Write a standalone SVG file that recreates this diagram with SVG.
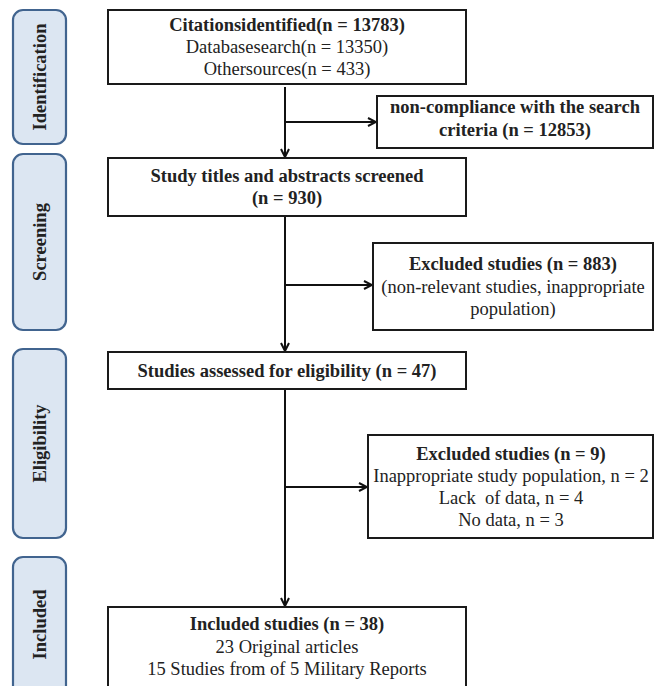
<svg xmlns="http://www.w3.org/2000/svg" width="655" height="686" viewBox="0 0 655 686">
<defs>
<style>
.stage{fill:#dce6f2;stroke:#41648f;stroke-width:2.2}
.box{fill:#fff;stroke:#1a1a1a;stroke-width:2}
.t{font-family:"Liberation Serif","Times New Roman",serif;font-size:18.5px;fill:#222;text-anchor:middle}
.b{font-weight:bold}
.c{stroke:#111;stroke-width:2;fill:none}
</style>
<marker id="ah" viewBox="0 0 10 10" refX="9" refY="5" markerWidth="10" markerHeight="10" markerUnits="userSpaceOnUse" orient="auto">
<path d="M1,1 L9,5 L1,9" fill="none" stroke="#111" stroke-width="2"/>
</marker>
</defs>
<rect width="655" height="686" fill="#fff"/>
<g id="stage-identification">
<rect class="stage" x="13" y="10" width="53" height="134" rx="10"/>
<text class="t b" transform="translate(46,77) rotate(-90)">Identification</text>
</g>
<g id="stage-screening">
<rect class="stage" x="13" y="154" width="53" height="176" rx="10"/>
<text class="t b" transform="translate(46,242) rotate(-90)">Screening</text>
</g>
<g id="stage-eligibility">
<rect class="stage" x="13" y="349" width="53" height="189" rx="10"/>
<text class="t b" transform="translate(46,443.5) rotate(-90)">Eligibility</text>
</g>
<g id="stage-included">
<rect class="stage" x="13" y="557" width="53" height="140" rx="10"/>
<text class="t b" transform="translate(46,624.5) rotate(-90)">Included</text>
</g>
<g id="connectors">
<line class="c" x1="285" y1="87" x2="285" y2="157" marker-end="url(#ah)"/>
<line class="c" x1="285" y1="122" x2="376" y2="122" marker-end="url(#ah)"/>
<line class="c" x1="285" y1="216" x2="285" y2="351" marker-end="url(#ah)"/>
<line class="c" x1="285" y1="285" x2="372" y2="285" marker-end="url(#ah)"/>
<line class="c" x1="285" y1="389" x2="285" y2="606" marker-end="url(#ah)"/>
<line class="c" x1="285" y1="487" x2="367" y2="487" marker-end="url(#ah)"/>
</g>
<g id="citations">
<rect class="box" x="108" y="10" width="358" height="74"/>
<text class="t b" x="287" y="31">Citationsidentified(n = 13783)</text>
<text class="t" x="287" y="53">Databasesearch(n = 13350)</text>
<text class="t" x="287" y="75">Othersources(n = 433)</text>
</g>
<g id="noncompliance">
<rect class="box" x="377" y="96" width="276" height="52"/>
<text class="t b" x="515" y="113">non-compliance with the search</text>
<text class="t b" x="515" y="136">criteria (n = 12853)</text>
</g>
<g id="screened">
<rect class="box" x="108" y="158" width="358" height="58"/>
<text class="t b" x="287" y="182">Study titles and abstracts screened</text>
<text class="t b" x="287" y="204">(n = 930)</text>
</g>
<g id="excluded883">
<rect class="box" x="373" y="243" width="280" height="87"/>
<text class="t b" x="513" y="270">Excluded studies (n = 883)</text>
<text class="t" x="513" y="293">(non-relevant studies, inappropriate</text>
<text class="t" x="513" y="315">population)</text>
</g>
<g id="eligibility">
<rect class="box" x="108" y="352" width="358" height="37"/>
<text class="t b" x="287" y="377">Studies assessed for eligibility (n = 47)</text>
</g>
<g id="excluded9">
<rect class="box" x="368" y="435" width="285" height="103"/>
<text class="t b" x="511" y="460">Excluded studies (n = 9)</text>
<text class="t" x="511" y="482">Inappropriate study population, n = 2</text>
<text class="t" x="511" y="504" xml:space="preserve" style="white-space:pre">Lack  of data, n = 4</text>
<text class="t" x="511" y="526">No data, n = 3</text>
</g>
<g id="included">
<rect class="box" x="108" y="607" width="358" height="90"/>
<text class="t b" x="287" y="630">Included studies (n = 38)</text>
<text class="t" x="287" y="653">23 Original articles</text>
<text class="t" x="287" y="675">15 Studies from of 5 Military Reports</text>
</g>
</svg>
